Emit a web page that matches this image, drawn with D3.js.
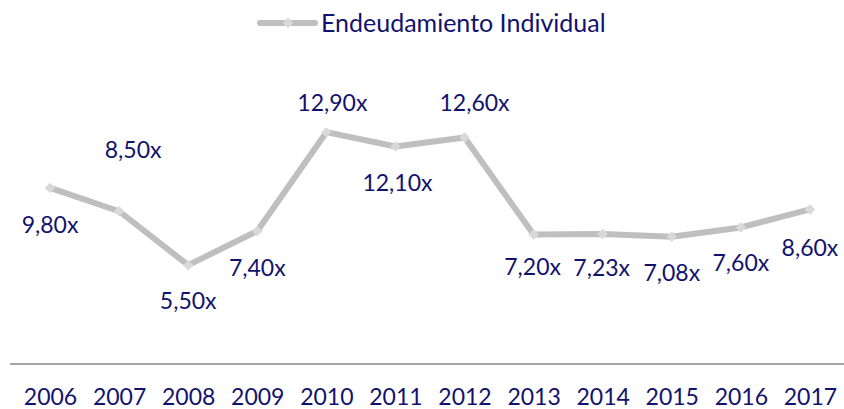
<!DOCTYPE html>
<html>
<head>
<meta charset="utf-8">
<script src="https://cdn.jsdelivr.net/npm/d3@7"></script>
<style>
  html, body { margin: 0; padding: 0; background: #ffffff; }
  svg { display: block; }
  text { font-family: Lato, "Open Sans", sans-serif; fill: #12126e; }
</style>
</head>
<body>
<svg id="chart" width="844" height="409"></svg>
<script>
// Years on the category axis
const years = ["2006", "2007", "2008", "2009", "2010", "2011", "2012", "2013", "2014", "2015", "2016", "2017"];
// Individual indebtedness ratio (times)
const endeudamiento = [9.80, 8.50, 5.50, 7.40, 12.90, 12.10, 12.60, 7.20, 7.23, 7.08, 7.60, 8.60];
const seriesName = "Endeudamiento Individual";
// Data label placement relative to each point (label centre offset, px)
const labelDx = [0, 14, 0, 0, 6, 2, 10, -1, -1, 0, 0, 0];
const labelDy = [37, -62, 35, 36, -30, 36, -35, 32, 33, 36, 35, 38];

const svg = d3.select("#chart");

const x = d3.scalePoint().domain(years).range([15.5, 844.5]).padding(0.5);
const y = d3.scaleLinear().domain([0, 14]).range([364, 112.4]);

const fmt = v => d3.format(".2f")(v).replace(".", ",") + "x";

// category axis: baseline rule and year labels
const axis = d3.axisBottom(x).tickSize(0).tickPadding(0);
const gAxis = svg.append("g").attr("transform", `translate(0,${y(0)})`).call(axis);
gAxis.select(".domain").remove();
gAxis.selectAll("text")
  .attr("dy", null)
  .attr("y", 41)
  .style("font-size", "23px")
  .style("font-family", "Lato, 'Open Sans', sans-serif")
  .attr("fill", "#12126e");
svg.append("line")
  .attr("x1", 10).attr("x2", 844)
  .attr("y1", y(0)).attr("y2", y(0))
  .attr("stroke", "#a6a6a6").attr("stroke-width", 2);

// series line
const data = years.map((yr, i) => ({ yr, v: endeudamiento[i], i }));
const line = d3.line().x(d => x(d.yr)).y(d => y(d.v));
svg.append("path")
  .datum(data)
  .attr("d", line)
  .attr("fill", "none")
  .attr("stroke", "#bfbfbf")
  .attr("stroke-width", 6)
  .attr("stroke-linejoin", "round");

// diamond markers
const diamond = d3.symbol().type(d3.symbolDiamond2).size(70);
svg.selectAll("path.marker")
  .data(data)
  .join("path")
  .attr("class", "marker")
  .attr("d", diamond)
  .attr("transform", d => `translate(${x(d.yr)},${y(d.v)})`)
  .attr("fill", "#d9d9d9");

// data labels
svg.selectAll("text.lbl")
  .data(data)
  .join("text")
  .attr("class", "lbl")
  .attr("x", d => x(d.yr) + labelDx[d.i])
  .attr("y", d => y(d.v) + labelDy[d.i] + 8.5)
  .attr("text-anchor", "middle")
  .style("font-size", "23px")
  .text(d => fmt(d.v));

// legend
const lg = svg.append("g");
lg.append("line")
  .attr("x1", 260).attr("x2", 315).attr("y1", 23).attr("y2", 23)
  .attr("stroke", "#bfbfbf").attr("stroke-width", 6).attr("stroke-linecap", "round");
lg.append("path")
  .attr("d", diamond)
  .attr("transform", "translate(288,23)")
  .attr("fill", "#d9d9d9");
lg.append("text")
  .attr("x", 321).attr("y", 32)
  .style("font-size", "25px")
  .text(seriesName);
</script>
</body>
</html>
